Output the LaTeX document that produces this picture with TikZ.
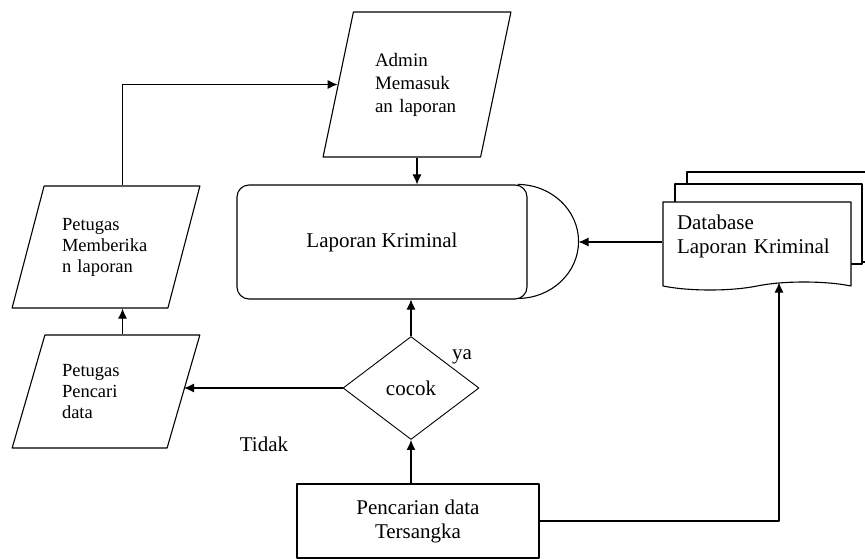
\documentclass[tikz,border=0pt]{standalone}
\usepackage{fontspec}
\setmainfont{Liberation Serif}
\usetikzlibrary{arrows.meta, shapes.geometric, shapes.symbols}

\tikzset{
    box/.style={draw, line width=1.1pt, font=\fontsize{21}{24}\selectfont, align=center},
    para/.style={draw, line width=1.1pt, trapezium, trapezium stretches=true, font=\fontsize{18.5}{21}\selectfont, text width=88pt, align=left},
    arr/.style={line width=1.1pt, -{Latex[length=10pt,width=9pt]}},
    lbl/.style={font=\fontsize{21}{24}\selectfont, inner sep=0pt}
}

\begin{document}
\begin{tikzpicture}[line join=round, x=1pt, y=-1pt]
    \useasboundingbox (0,0) rectangle (865,559);

    % parallelograms
    \node[para, minimum width=188pt, minimum height=145pt, trapezium left angle=72.8, trapezium right angle=107.2, text width=84pt, font=\fontsize{19}{23}\selectfont] (admin) at (417,84.5) {Admin\\Memasuk\\an laporan};
    \node[para, minimum width=188pt, minimum height=122pt, trapezium left angle=69.3, trapezium right angle=110.7] (beri) at (106,247) {Petugas\\Memberika\\n laporan};
    \node[para, minimum width=188pt, minimum height=113pt, trapezium left angle=67.4, trapezium right angle=112.6] (cari) at (106,391.5) {Petugas\\Pencari\\data};

    % display
    \node[box, rounded corners=12pt, minimum width=290pt, minimum height=114pt] (lap) at (382,242) {Laporan Kriminal};
    \draw[line width=1.1pt] ([xshift=-10pt]lap.north east) arc[start angle=-90, end angle=90, x radius=61, y radius=57];
    \coordinate (lapR) at ([xshift=51pt]lap.east);

    % documents
    \node[draw, fill=white, line width=1.1pt, minimum width=193pt, minimum height=90pt] (db3) at (783.5,217) {};
    \node[draw, fill=white, line width=1.1pt, minimum width=187pt, minimum height=80pt] (db2) at (768.5,224) {};
    \node[box, fill=white, tape, tape bend top=none, tape bend height=8pt, minimum width=188pt, minimum height=88pt, text width=160pt, align=left] (db) at (757,242) {Database\\Laporan Kriminal\\[-8pt]\mbox{}};

    % decision
    \node[box, diamond, line width=0.9pt, minimum width=136pt, minimum height=103pt, inner sep=0pt] (cek) at (411,388) {cocok};
    \node[box, minimum width=242pt, minimum height=74pt] (pc) at (418,521) {Pencarian data\\Tersangka};

    \node[lbl] (ya) at (462,357) {ya};
    \node[lbl] (tidak) at (264,444) {Tidak};

    % Edges
    \draw[arr] (pc.north -| cek.south) -- (cek.south);
    \draw[arr] (cek.north) -- (cek.north |- lap.south);
    \draw[arr] (cek.west) -- (cek.west -| cari.east);
    \draw[arr] (cari.top side) -- (cari.top side |- beri.south);
    \draw[arr] (beri.top side) |- (admin.left side);
    \draw[arr] (admin.south) -- (admin.south |- lap.north);
    \draw[arr] (db.west) -- (lapR);
    \draw[arr] (pc.east) -| ([xshift=22pt]db.south);
\end{tikzpicture}
\end{document}
